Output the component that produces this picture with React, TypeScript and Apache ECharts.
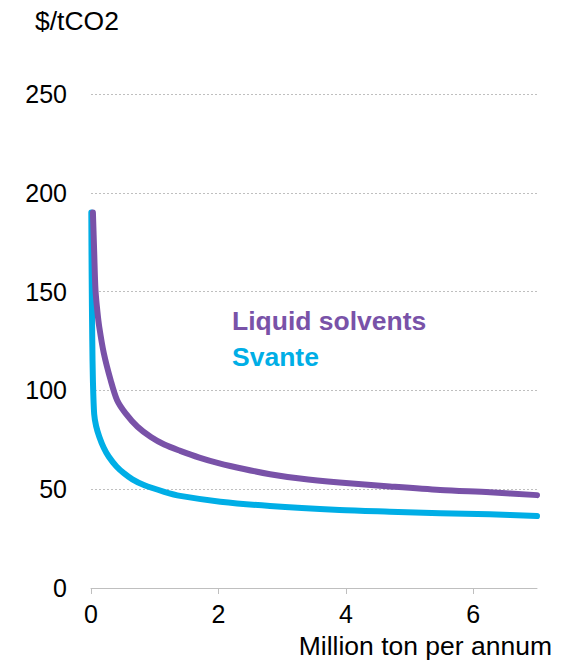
import React, { useEffect, useRef } from "react";
import * as echarts from "echarts";

const yTitle = "$/tCO2";
const xTitle = "Million ton per annum";
const seriesNames = ["Liquid solvents", "Svante"];

const solventX = [0.03, 0.05, 0.07, 0.1, 0.13, 0.2, 0.31, 0.41, 0.54, 0.73, 0.94, 1.15, 1.4, 1.7, 2.0, 2.4, 2.81, 3.28, 3.9, 4.69, 5.48, 6.26, 7.0];
const solventY = [190, 170, 151, 140, 132, 119, 105, 95, 88.5, 81.6, 76.4, 72.6, 69.4, 66.0, 63.2, 60.2, 57.6, 55.4, 53.4, 51.4, 49.6, 48.4, 47.0];

const svanteX = [0.005, 0.01, 0.02, 0.03, 0.05, 0.08, 0.13, 0.2, 0.28, 0.4, 0.52, 0.65, 0.83, 1.15, 1.4, 2.03, 2.81, 3.9, 4.69, 5.48, 6.26, 7.0];
const svanteY = [190, 160, 125, 105, 88, 82, 76.6, 71, 66.4, 61.5, 58, 55, 52.1, 48.7, 46.6, 43.7, 41.5, 39.5, 38.6, 37.8, 37.3, 36.4];

const xTicks = [0, 2, 4, 6];

const PURPLE = "#7952A8";
const CYAN = "#00AEE6";
const FONT = "'Liberation Sans', Arial, sans-serif";

export default function App() {
  const ref = useRef<HTMLDivElement>(null);
  useEffect(() => {
    if (!ref.current) return;
    const chart = echarts.init(ref.current, null, { renderer: "svg" });
    chart.setOption({
      animation: false,
      backgroundColor: "#ffffff",
      grid: { left: 91, right: 34, top: 94, bottom: 82, containLabel: false },
      xAxis: {
        type: "value",
        min: 0,
        max: 7,
        interval: 2,
        axisLine: { show: true, lineStyle: { color: "#BFBFBF", width: 1 } },
        axisTick: { show: true, customValues: xTicks, length: 6, lineStyle: { color: "#BFBFBF" } },
        axisLabel: { customValues: xTicks, color: "#000", fontSize: 25, fontFamily: FONT, margin: 13 },
        splitLine: { show: false },
      },
      yAxis: {
        type: "value",
        min: 0,
        max: 250,
        interval: 50,
        axisLine: { show: false },
        axisTick: { show: false },
        axisLabel: { color: "#000", fontSize: 25, fontFamily: FONT, margin: 24 },
        splitLine: { show: true, lineStyle: { color: "#BFBFBF", type: [2, 2], width: 1 } },
      },
      series: [
        {
          name: seriesNames[1],
          type: "line",
          data: svanteX.map((x, i) => [x, svanteY[i]]),
          showSymbol: false,
          smooth: 0.3,
          lineStyle: { color: CYAN, width: 6, cap: "round", join: "round" },
          z: 2,
        },
        {
          name: seriesNames[0],
          type: "line",
          data: solventX.map((x, i) => [x, solventY[i]]),
          showSymbol: false,
          smooth: 0.3,
          lineStyle: { color: PURPLE, width: 6, cap: "round", join: "round" },
          z: 3,
        },
      ],
      graphic: [
        {
          type: "text",
          x: 35,
          y: 21,
          scaleX: 1.06,
          style: { text: yTitle, fill: "#000", font: `25px ${FONT}`, textAlign: "left", textVerticalAlign: "middle" },
        },
        {
          type: "text",
          x: 552,
          y: 646,
          scaleX: 1.06,
          style: { text: xTitle, fill: "#000", font: `25px ${FONT}`, textAlign: "right", textVerticalAlign: "middle" },
        },
        {
          type: "text",
          x: 232,
          y: 321,
          scaleX: 1.06,
          style: { text: seriesNames[0], fill: PURPLE, font: `bold 25px ${FONT}`, textAlign: "left", textVerticalAlign: "middle" },
        },
        {
          type: "text",
          x: 232,
          y: 357,
          scaleX: 1.06,
          style: { text: seriesNames[1], fill: CYAN, font: `bold 25px ${FONT}`, textAlign: "left", textVerticalAlign: "middle" },
        },
      ],
    });
    return () => chart.dispose();
  }, []);
  return <div ref={ref} style={{ position: "fixed", left: 0, top: 0, width: 571, height: 670 }} />;
}
